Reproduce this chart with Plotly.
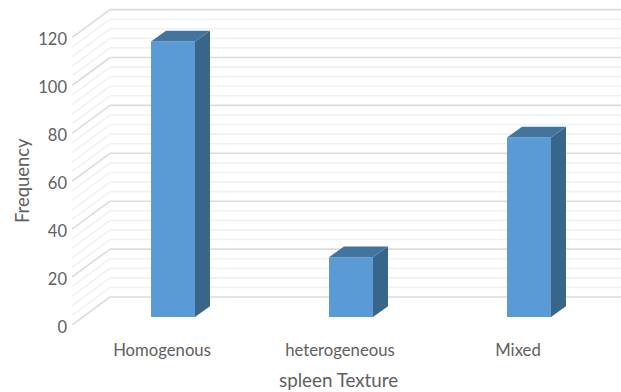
import plotly.graph_objects as go

categories = ["Homogenous", "heterogeneous", "Mixed"]
frequency = [115, 25, 75]
major_ticks = [0, 20, 40, 60, 80, 100, 120]
minor_step = 4

# Pseudo-3D geometry, in axis units (x: category spacing, y: frequency)
WALL_DX, WALL_DY = 0.2135, 11.69
BAR_DX, BAR_DY = 0.0618, 3.34
DEPTH_DX, DEPTH_DY = 0.0843, 4.47
BAR_WIDTH = 0.247

FRONT = "#5b9bd5"
SIDE = "#38658a"
TOP = "#43749f"
MAJOR = "#dcdcdc"
MINOR = "#f1f1f1"
TEXT = "#606060"
FONT = "Lato"

X_RANGE = [-0.5056, 2.5787]
Y_RANGE = [0, 135.7]

shapes = []
for v in range(0, max(major_ticks) + 1, minor_step):
    colour = MAJOR if v in major_ticks else MINOR
    # side wall, running back from the axis
    shapes.append(dict(type="line", xref="x", yref="y", layer="below",
                       x0=X_RANGE[0], y0=v, x1=X_RANGE[0] + WALL_DX, y1=v + WALL_DY,
                       line=dict(color=colour, width=1.6)))
    # back wall
    shapes.append(dict(type="line", xref="x", yref="y", layer="below",
                       x0=X_RANGE[0] + WALL_DX, y0=v + WALL_DY, x1=X_RANGE[1], y1=v + WALL_DY,
                       line=dict(color=colour, width=1.6)))

fig = go.Figure()

# Front faces of the columns
fig.add_trace(go.Bar(
    x=[i + BAR_DX for i in range(len(categories))],
    y=frequency,
    base=[BAR_DY] * len(categories),
    width=BAR_WIDTH,
    marker=dict(color=FRONT, line=dict(width=0)),
    showlegend=False,
))

# Side and top faces of the columns
for i, v in enumerate(frequency):
    left = i + BAR_DX - BAR_WIDTH / 2
    right = i + BAR_DX + BAR_WIDTH / 2
    fig.add_trace(go.Scatter(
        x=[right, right + DEPTH_DX, right + DEPTH_DX, right, right],
        y=[BAR_DY, BAR_DY + DEPTH_DY, BAR_DY + v + DEPTH_DY, BAR_DY + v, BAR_DY],
        mode="lines", fill="toself", fillcolor=SIDE, line=dict(width=0),
        showlegend=False, hoverinfo="skip",
    ))
    fig.add_trace(go.Scatter(
        x=[left, left + DEPTH_DX, right + DEPTH_DX, right, left],
        y=[BAR_DY + v, BAR_DY + v + DEPTH_DY, BAR_DY + v + DEPTH_DY, BAR_DY + v, BAR_DY + v],
        mode="lines", fill="toself", fillcolor=TOP, line=dict(width=0),
        showlegend=False, hoverinfo="skip",
    ))

# Axis titles sit off-centre from the plot area, so they are placed as paper annotations
annotations = [
    dict(text="spleen Texture", xref="paper", yref="paper",
         x=(338.5 - 72) / 549, y=(325 - 379) / 325,
         xanchor="center", yanchor="middle", showarrow=False,
         font=dict(size=18.8, color=TEXT)),
    dict(text="Frequency", xref="paper", yref="paper",
         x=(22 - 72) / 549, y=(325 - 181) / 325,
         xanchor="center", yanchor="middle", textangle=-90, showarrow=False,
         font=dict(size=18.4, color=TEXT)),
]

fig.update_layout(
    width=621, height=392,
    margin=dict(l=72, r=0, t=0, b=67),
    paper_bgcolor="white", plot_bgcolor="white",
    font=dict(family=FONT, size=15, color=TEXT),
    shapes=shapes,
    annotations=annotations,
    xaxis=dict(
        range=X_RANGE, showgrid=False, zeroline=False, showline=False,
        tickmode="array", tickvals=list(range(len(categories))), ticktext=categories,
        tickfont=dict(size=16.7, color=TEXT), ticklabelstandoff=13,
    ),
    yaxis=dict(
        range=Y_RANGE, showgrid=False, zeroline=False, showline=False,
        tickmode="array", tickvals=major_ticks,
        tickfont=dict(size=16.5, color=TEXT), ticklabelstandoff=4, ticklabelshift=2,
    ),
)

fig.write_html("out.html")
